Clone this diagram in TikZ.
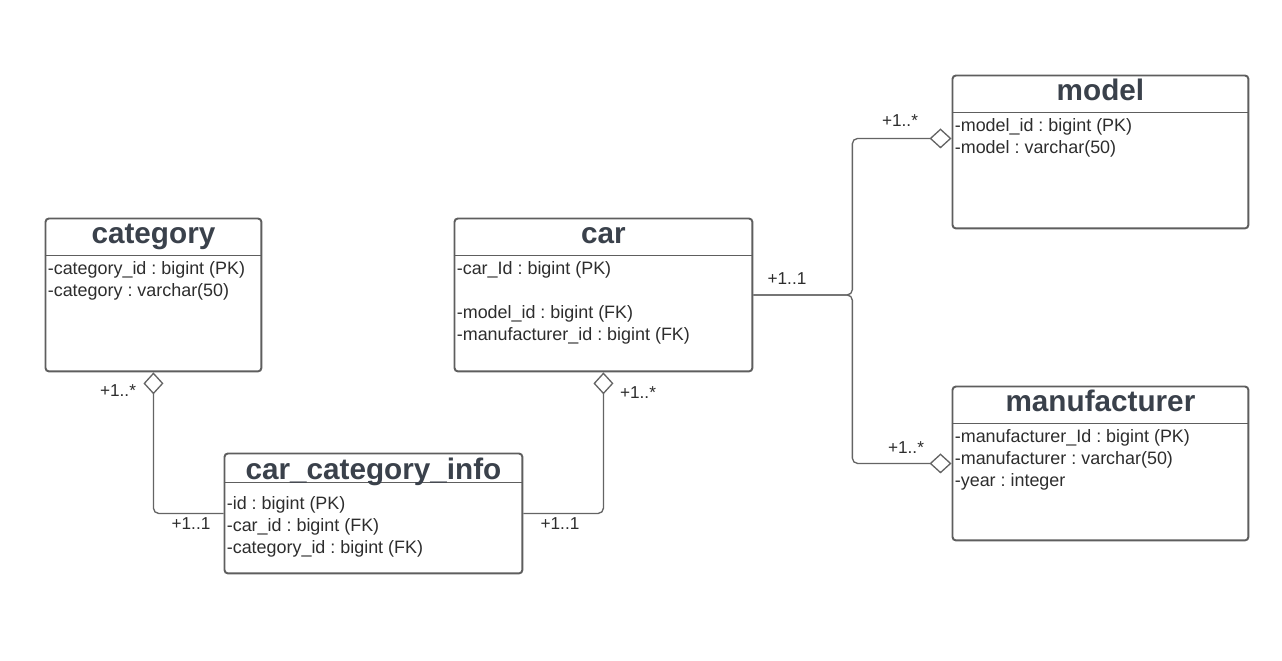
\documentclass[tikz,border=0pt]{standalone}
\usepackage{fontspec}
\setmainfont{Liberation Sans}
\frenchspacing
\usetikzlibrary{positioning, arrows.meta}
\definecolor{Bordo}{RGB}{94, 94, 94}
\definecolor{Titolo}{RGB}{58, 65, 75}
\definecolor{Testo}{RGB}{45, 45, 45}
\definecolor{Linea}{RGB}{100, 100, 100}
\tikzset{
    tabella/.style = {draw=Bordo, line width=1.1pt, rounded corners=2pt, inner sep=0pt, anchor=north west},
    divisore/.style = {draw=Bordo, line width=1.1pt},
    titolo/.style = {anchor=base, inner sep=0pt, text=Titolo, font=\fontsize{16.9}{20}\selectfont\bfseries},
    campi/.style = {anchor=base west, align=left, inner sep=0pt, text=Testo, font=\fontsize{10.2}{12.47}\selectfont\frenchspacing},
    molteplicita/.style = {inner sep=0pt, text=Testo, font=\fontsize{9.8}{12}\selectfont},
    aggregazione/.style = {draw=Linea, line width=0.75pt, rounded corners=3pt, -{Diamond[open, length=0.44cm, width=0.4cm]}}
}

\begin{document}
\begin{tikzpicture}[x=0.02cm, y=-0.02cm]

    \fill[white] (0,0) rectangle (1282,660);
    \useasboundingbox (0,0) rectangle (1282,660);

    %%% Tables
    \node[tabella, minimum width=4.32cm, minimum height=3.06cm] (category)     at (44.5,217.5)  {};
    \node[tabella, minimum width=5.96cm, minimum height=3.06cm] (car)          at (453.5,217.5) {};
    \node[tabella, minimum width=5.92cm, minimum height=3.06cm] (model)        at (951.5,74.5)  {};
    \node[tabella, minimum width=5.92cm, minimum height=3.08cm] (manufacturer) at (951.5,385.5) {};
    \node[tabella, minimum width=5.96cm, minimum height=2.40cm] (cci)          at (223.5,452.5) {};

    % header separators
    \draw[divisore] ([yshift=-0.76cm]category.north west) -- ([yshift=-0.76cm]category.north east);
    \draw[divisore] ([yshift=-0.76cm]car.north west) -- ([yshift=-0.76cm]car.north east);
    \draw[divisore] ([yshift=-0.76cm]model.north west) -- ([yshift=-0.76cm]model.north east);
    \draw[divisore] ([yshift=-0.76cm]manufacturer.north west) -- ([yshift=-0.76cm]manufacturer.north east);
    \draw[divisore] ([yshift=-0.60cm]cci.north west) -- ([yshift=-0.60cm]cci.north east);

    % titles
    \node[titolo] (category titolo)     at ([yshift=-0.52cm]category.north)     {category};
    \node[titolo] (car titolo)          at ([yshift=-0.52cm]car.north)          {car};
    \node[titolo] (model titolo)        at ([yshift=-0.52cm]model.north)        {model};
    \node[titolo] (manufacturer titolo) at ([yshift=-0.52cm]manufacturer.north) {manufacturer};
    \node[titolo] (cci titolo)          at ([yshift=-0.54cm]cci.north)          {car\_category\_info};

    % fields (base = last line)
    \node[campi] (category campi) at ([xshift=0.06cm, yshift=-1.58cm]category.north west)
        {-category\_id : bigint (PK)\\-category : varchar(50)};
    \node[campi] (car campi) at ([xshift=0.06cm, yshift=-2.46cm]car.north west)
        {-car\_Id : bigint (PK)\\[12.47pt]-model\_id : bigint (FK)\\-manufacturer\_id : bigint (FK)};
    \node[campi] (model campi) at ([xshift=0.06cm, yshift=-1.58cm]model.north west)
        {-model\_id : bigint (PK)\\-model : varchar(50)};
    \node[campi] (manufacturer campi) at ([xshift=0.06cm, yshift=-2.02cm]manufacturer.north west)
        {-manufacturer\_Id : bigint (PK)\\-manufacturer : varchar(50)\\-year : integer};
    \node[campi] (cci campi) at ([xshift=0.06cm, yshift=-2.02cm]cci.north west)
        {-id : bigint (PK)\\-car\_id : bigint (FK)\\-category\_id : bigint (FK)};

    %%% Associations
    \coordinate[right=1.98cm of car.east] (bivio);

    \draw[aggregazione] (cci.west) -| (category.south);
    \draw[aggregazione] (cci.east) -| (car.south);
    \draw[aggregazione] (car.east) -- (bivio) |- ([yshift=0.27cm]model.west);
    \draw[aggregazione] (car.east) -- (bivio) |- (manufacturer.west);

    % multiplicities
    \node[molteplicita] (m category)     at (118,391) {+1..*};
    \node[molteplicita] (m cci left)     at (191,524) {+1..1};
    \node[molteplicita] (m car)          at (638,393) {+1..*};
    \node[molteplicita] (m cci right)    at (560,524) {+1..1};
    \node[molteplicita] (m car east)     at (787,279) {+1..1};
    \node[molteplicita] (m model)        at (900,121) {+1..*};
    \node[molteplicita] (m manufacturer) at (906,448) {+1..*};

\end{tikzpicture}
\end{document}
